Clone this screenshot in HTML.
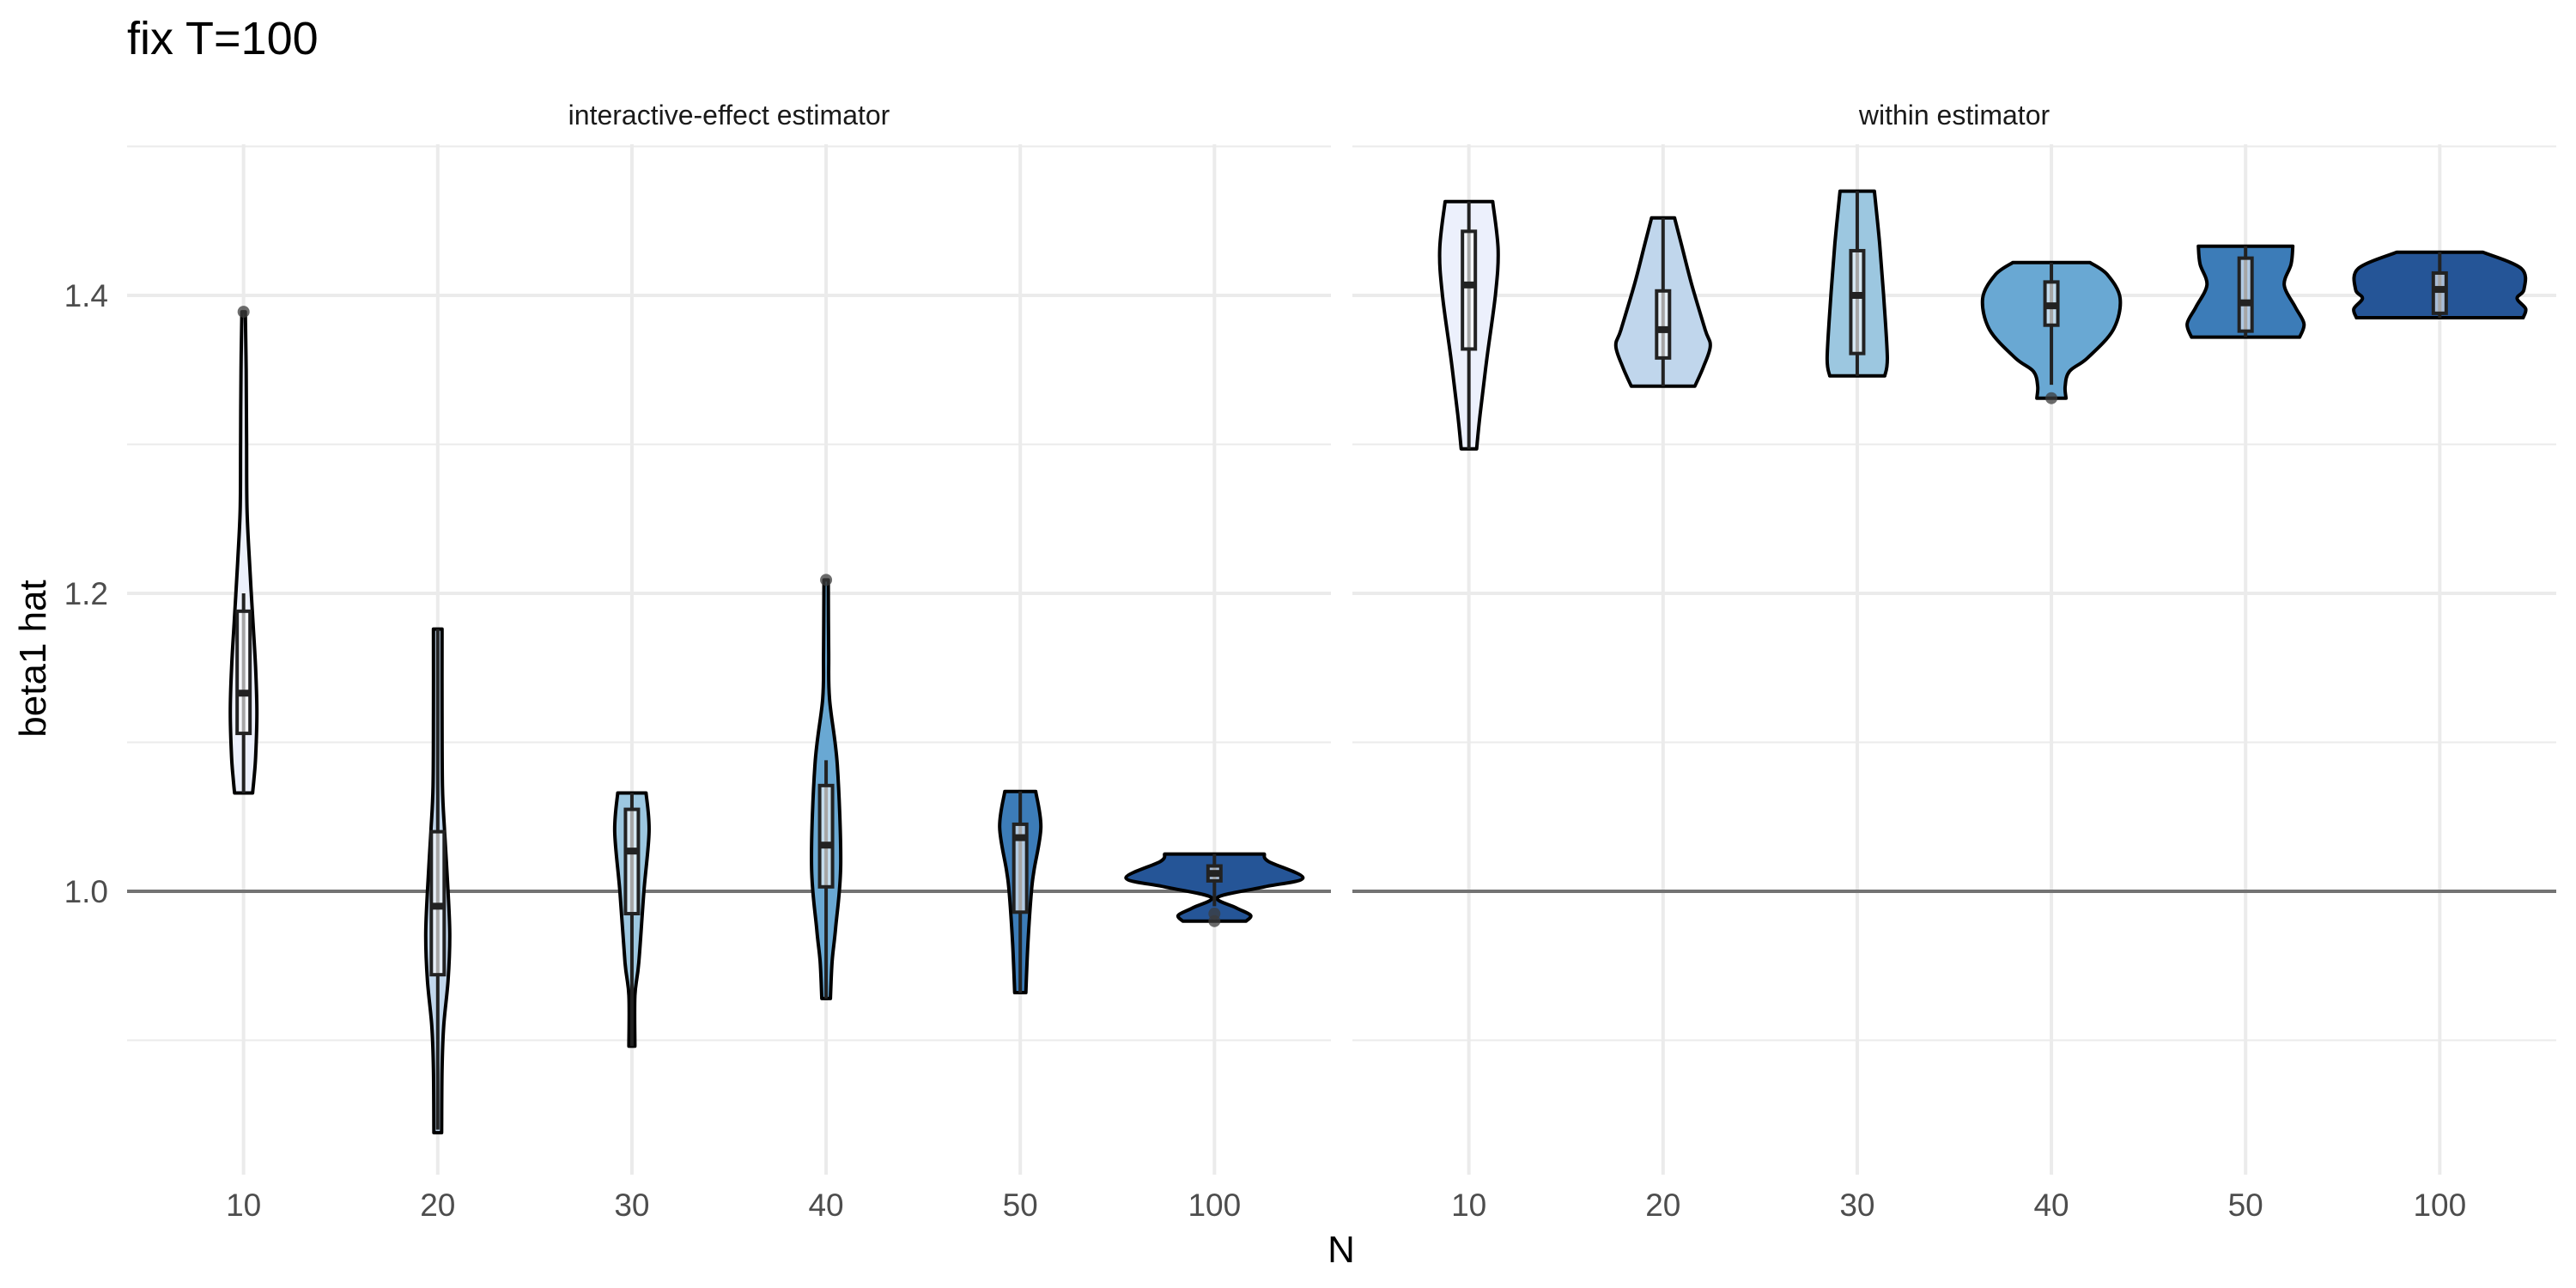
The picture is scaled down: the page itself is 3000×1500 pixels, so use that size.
<!DOCTYPE html>
<html><head><meta charset="utf-8">
<style>
html,body{margin:0;padding:0;background:#fff;}
svg{display:block;font-family:"Liberation Sans",Arial,sans-serif;}
</style></head>
<body>
<svg id="chart" width="3000" height="1500" viewBox="0 0 3000 1500" xmlns="http://www.w3.org/2000/svg">
<text x="148" y="63" font-size="54" fill="#000">fix T=100</text>
<text x="849" y="145" font-size="32" fill="#1a1a1a" text-anchor="middle">interactive-effect estimator</text>
<text x="2276" y="145" font-size="32" fill="#1a1a1a" text-anchor="middle">within estimator</text>
<text transform="translate(53,767) rotate(-90)" font-size="44" fill="#000" text-anchor="middle">beta1 hat</text>
<text x="1562" y="1470" font-size="44" fill="#000" text-anchor="middle">N</text>
<g id="grid"></g>
<g id="marks"></g>
<g id="ticks"></g>
</svg>
<script>
const categories = ["10","20","30","40","50","100"];
const yTicks = [1.0, 1.2, 1.4];
const yMinor = [0.9, 1.1, 1.3, 1.5];
const panels = ["interactive","within"];
const fills = ["#ecf0fc","#c0d6ec","#9cc7e0","#69a8d3","#3c7cb8","#255597"];
// violin profiles: [value, half-width density]
const ieProfiles = [
 [[1.389,2],[1.35,3],[1.30,3.5],[1.256,4],[1.22,7],[1.18,11],[1.15,14],[1.12,15.5],[1.09,14],[1.075,12],[1.066,10.5]],
 [[1.176,5],[1.12,5],[1.07,5.5],[1.04,8],[1.0,12],[0.97,14],[0.94,12],[0.91,7],[0.88,5],[0.838,4.5]],
 [[1.066,16.5],[1.04,20],[1.0,14],[0.952,8],[0.93,3.5],[0.896,3.5]],
 [[1.209,2.5],[1.16,3],[1.129,4],[1.085,13],[1.018,17],[0.975,11],[0.953,7],[0.928,5]],
 [[1.067,18],[1.043,24],[1.014,16],[1.0,13],[0.966,9],[0.932,6.5]],
 [[1.025,58],[1.020,63],[1.009,103],[1.003,58],[0.996,4],[0.989,25],[0.984,42],[0.980,37]]
];
const wiProfiles = [
 [[1.463,27.7],[1.431,34],[1.401,31],[1.358,21],[1.320,13],[1.297,9]],
 [[1.452,13.4],[1.435,21],[1.408,33],[1.377,49],[1.366,55],[1.352,47],[1.339,37]],
 [[1.470,20],[1.435,26],[1.397,31],[1.358,35],[1.346,32]],
 [[1.422,45],[1.414,65],[1.398,80],[1.377,72],[1.358,42],[1.349,21],[1.339,16],[1.331,17]],
 [[1.433,55],[1.421,53],[1.407,45],[1.392,58],[1.381,68],[1.372,63]],
 [[1.429,50],[1.418,95],[1.404,98],[1.398,90],[1.391,100],[1.385,97]]
];
// box stats: [lowerWhisker, q1, median, q3, upperWhisker]
const ieBoxes = [[1.066,1.106,1.133,1.188,1.200],[0.840,0.944,0.990,1.040,1.176],[0.896,0.985,1.027,1.055,1.066],[0.928,1.003,1.031,1.071,1.088],[0.932,0.986,1.036,1.045,1.067],[0.990,1.007,1.012,1.017,1.025]];
const wiBoxes = [[1.297,1.364,1.407,1.443,1.463],[1.339,1.358,1.377,1.403,1.452],[1.346,1.361,1.400,1.430,1.470],[1.340,1.380,1.393,1.409,1.422],[1.372,1.376,1.395,1.425,1.433],[1.385,1.388,1.404,1.415,1.429]];
const ieOutliers = [[0,1.389],[3,1.209],[5,0.980],[5,0.985]];
const wiOutliers = [[3,1.331]];

const NS="http://www.w3.org/2000/svg";
const panelX=[[148,1550],[1575,2977]];
const yTop=168, yBot=1368;
function y(v){return 1038-(v-1)*1735;}
function bw(p){return (panelX[p][1]-panelX[p][0])/6.2;}
function x(p,i){return panelX[p][0]+bw(p)*(i+0.6);}
function el(tag,attrs,parent){const e=document.createElementNS(NS,tag);for(const k in attrs)e.setAttribute(k,attrs[k]);parent.appendChild(e);return e;}
function spline(pts){ // catmull-rom through pts, returns bezier segments (without initial M)
  let d='';
  for(let i=0;i<pts.length-1;i++){
    const p0=pts[Math.max(0,i-1)],p1=pts[i],p2=pts[i+1],p3=pts[Math.min(pts.length-1,i+2)];
    const c1=[p1[0]+(p2[0]-p0[0])/6,p1[1]+(p2[1]-p0[1])/6];
    const c2=[p2[0]-(p3[0]-p1[0])/6,p2[1]-(p3[1]-p1[1])/6];
    d+=' C'+c1[0].toFixed(1)+','+c1[1].toFixed(1)+' '+c2[0].toFixed(1)+','+c2[1].toFixed(1)+' '+p2[0].toFixed(1)+','+p2[1].toFixed(1);
  }
  return d;
}
const grid=document.getElementById('grid'), marks=document.getElementById('marks'), ticks=document.getElementById('ticks');
panels.forEach((pn,p)=>{
  yMinor.forEach(v=>{const l=el('line',{x1:panelX[p][0],x2:panelX[p][1],y1:y(v),y2:y(v),stroke:'#ebebeb','stroke-width':2},grid);
    
    });
  yTicks.forEach(v=>{const l=el('line',{x1:panelX[p][0],x2:panelX[p][1],y1:y(v),y2:y(v),stroke:'#ebebeb','stroke-width':4},grid);
    
    });
  categories.forEach((c,i)=>{const l=el('line',{x1:x(p,i),x2:x(p,i),y1:yTop,y2:yBot,stroke:'#ebebeb','stroke-width':4},grid);
    
    
    const t=el('text',{x:x(p,i),y:1416,'font-size':37,fill:'#4d4d4d','text-anchor':'middle'},ticks);
    t.textContent=c;
    
    });
  const h=el('line',{x1:panelX[p][0],x2:panelX[p][1],y1:y(1),y2:y(1),stroke:'#737373','stroke-width':4},grid);
  
  
  const profs=p===0?ieProfiles:wiProfiles, boxes=p===0?ieBoxes:wiBoxes, outs=p===0?ieOutliers:wiOutliers;
  const k=bw(p)/226;
  profs.forEach((prof,i)=>{
    const cx=x(p,i);
    const right=prof.map(d=>[cx+d[1]*k,y(d[0])]);
    const left=prof.slice().reverse().map(d=>[cx-d[1]*k,y(d[0])]);
    const d='M'+right[0][0].toFixed(1)+','+right[0][1].toFixed(1)+spline(right)+' L'+left[0][0].toFixed(1)+','+left[0][1].toFixed(1)+spline(left)+' Z';
    const v=el('path',{d:d,fill:fills[i],stroke:'#000','stroke-width':4,'stroke-linejoin':'round'},marks);
    
    
    const b=boxes[i], hw=7.5;
    const wk=el('line',{x1:cx,x2:cx,y1:y(b[0]),y2:y(b[4]),stroke:'#222','stroke-width':4},marks);
    
    
    const r=el('rect',{x:cx-hw,y:y(b[3]),width:2*hw,height:Math.max(1,y(b[1])-y(b[3])),fill:'rgba(255,255,255,0.6)',stroke:'#222','stroke-width':4},marks);
    
    
    const m=el('line',{x1:cx-hw,x2:cx+hw,y1:y(b[2]),y2:y(b[2]),stroke:'#222','stroke-width':8},marks);
    
    
  });
  outs.forEach(o=>{const c=el('circle',{cx:x(p,o[0]),cy:y(o[1]),r:7,fill:'rgba(60,60,60,0.75)'},marks);
    
    });
});
yTicks.forEach(v=>{const t=el('text',{x:126,y:y(v)+13,'font-size':37,fill:'#4d4d4d','text-anchor':'end'},ticks);
  t.textContent=v.toFixed(1);
  
  });
</script>
</body></html>
